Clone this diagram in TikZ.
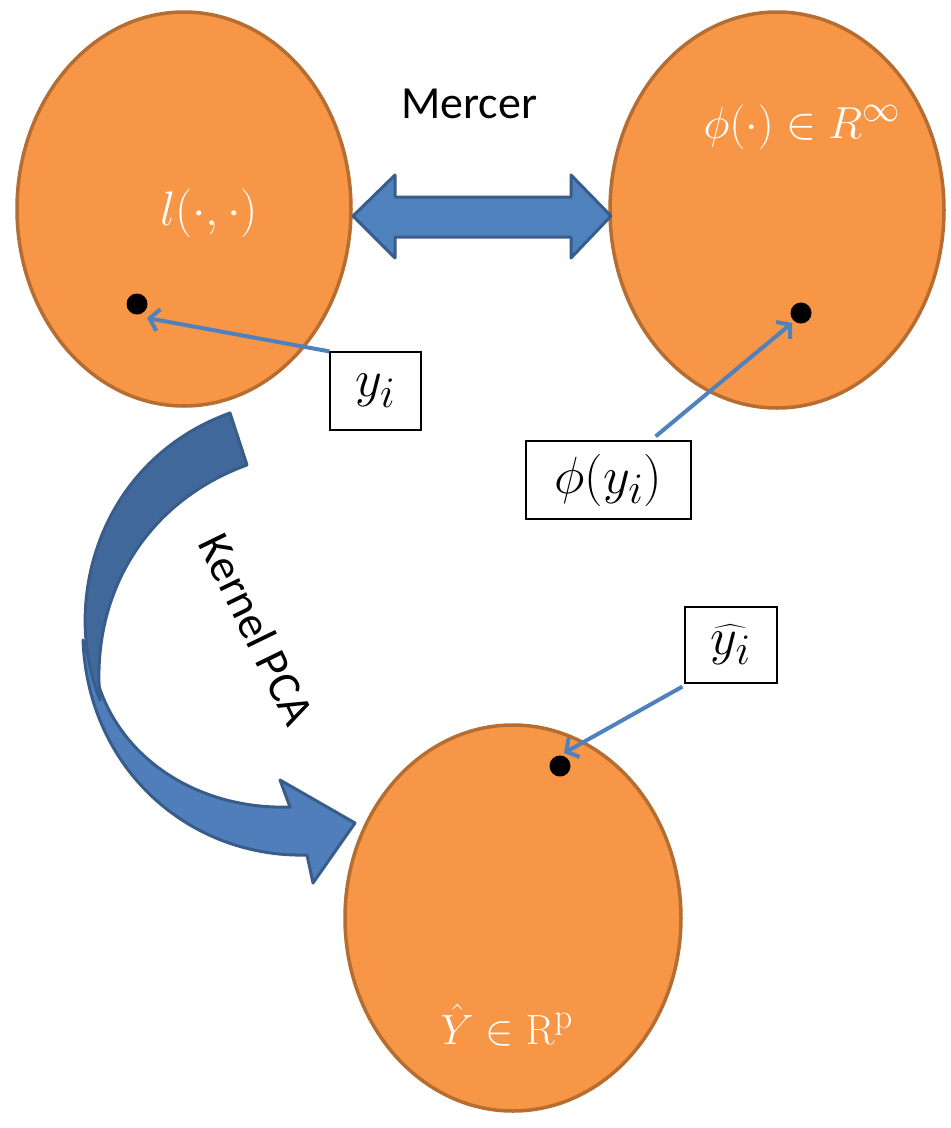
\documentclass[tikz,border=0pt]{standalone}
\usepackage[no-math]{fontspec}
\setmainfont{Carlito}
\usetikzlibrary{arrows.meta,shapes.geometric}
\definecolor{orfill}{HTML}{F79646}
\definecolor{orline}{HTML}{B66D31}
\definecolor{bluef}{HTML}{4F81BD}
\definecolor{bluelt}{HTML}{4F7EBB}
\definecolor{bluedk}{HTML}{41689A}
\definecolor{blueln}{HTML}{385D8A}
\newcommand{\scmath}[2]{\scalebox{#1}{\Huge$#2$}}
\begin{document}
\begin{tikzpicture}[x=1pt,y=-1pt,
  space/.style={ellipse, fill=orfill, draw=orline, line width=3.5pt, inner sep=0pt},
  dotpt/.style={circle, fill=black, minimum size=21pt, inner sep=0pt},
  lbl/.style={draw=black, line width=1.2pt, fill=white, inner sep=0pt},
  wtxt/.style={text=white, inner sep=0pt},
  ptr/.style={draw=bluef, line width=4pt, -{Straight Barb[length=9pt,width=22pt]}},
  bigtxt/.style={font=\fontsize{46}{52}\selectfont, inner sep=0pt},
  band/.style={draw=blueln, line width=3pt, line join=round}]
\useasboundingbox (0,0) rectangle (951,1128);
\fill[white] (0,0) rectangle (951,1128);

% spaces
\node[space, minimum width=334pt, minimum height=394pt] (L) at (184,209) {};
\node[space, minimum width=334pt, minimum height=396pt] (R) at (777,210) {};
\node[space, minimum width=336pt, minimum height=386pt] (B) at (513,918) {};

% labels inside
\node[wtxt] (Lt) at (209,213) {\scmath{1.95}{l(\cdot,\cdot)}};
\node[wtxt] (Rt) at (802,127) {\scmath{1.8}{\phi(\cdot)\in R^{\infty}}};
\node[wtxt, anchor=base] (Bt) at (507,1044) {\scmath{1.7}{\hat{Y}\in \mathrm{R}^{\mathrm{p}}}};

% Mercer double arrow
\node[bigtxt] (mer) at (469,104) {Mercer};
\draw[band, fill=bluef] (353,216) -- (395,175) -- (395,197) -- (571,197) -- (571,175)
  -- (611,216) -- (571,258) -- (571,237) -- (395,237) -- (395,258) -- cycle;

% Kernel PCA curved arrow
\draw[band, fill=bluelt] (83,640) .. controls (88,770) and (190,858) .. (307,855)
  -- (313,883) -- (355,823) -- (280,780) -- (290,807)
  .. controls (200,810) and (120,760) .. (97,680) -- cycle;
\draw[band, fill=bluedk] (230,413) -- (247,465) .. controls (150,500) and (90,590) .. (100,700)
  .. controls (60,600) and (100,460) .. (230,413) -- cycle;
\node[bigtxt, rotate=-64] (kp) at (257,629) {Kernel PCA};

% boxes
\node[lbl, minimum width=91pt, minimum height=78pt] (yi) at (375.5,391) {\scmath{2.1}{y_i}};
\node[lbl, minimum width=165pt, minimum height=78pt] (phi) at (608.5,480) {\scmath{2.1}{\phi(y_i)}};
\node[lbl, minimum width=92pt, minimum height=76pt] (yh) at (731,645) {\scmath{2.1}{\widehat{y_i}}};

% points
\node[dotpt] (d1) at (137,304) {};
\node[dotpt] (d2) at (801,313) {};
\node[dotpt] (d3) at (560,766) {};

% pointers
\coordinate (t1) at (147,318);
\coordinate (t2) at (792,323);
\coordinate (t3) at (564,753);
\draw[ptr] (yi.north west) -- (t1);
\draw[ptr] ([xshift=-36pt,yshift=4pt]phi.north east) -- (t2);
\draw[ptr] ([xshift=-2pt,yshift=-3pt]yh.south west) -- (t3);
\end{tikzpicture}
\end{document}
